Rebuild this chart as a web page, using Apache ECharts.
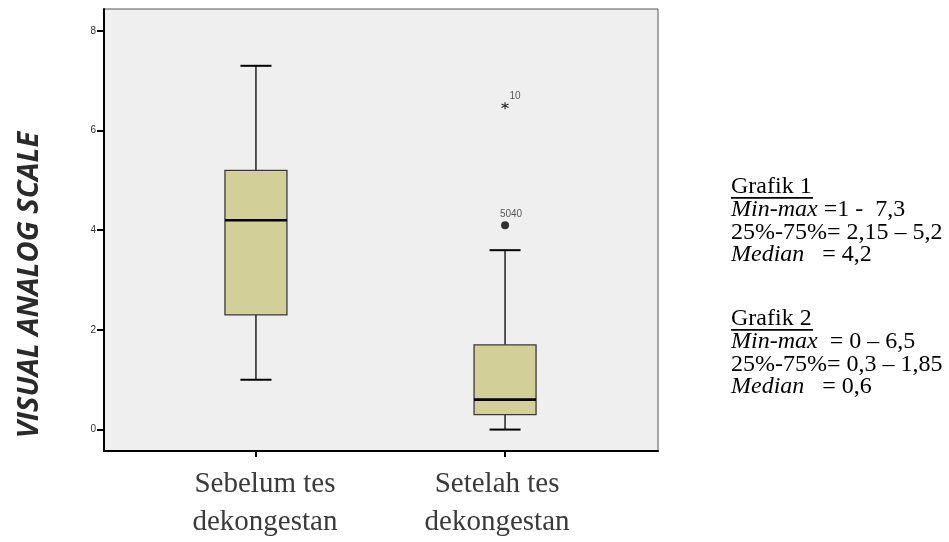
<!DOCTYPE html>
<html><head><meta charset="utf-8">
<script src="https://cdn.jsdelivr.net/npm/echarts@6/dist/echarts.min.js"></script>
<style>html,body{margin:0;padding:0;background:#fff;}#c{width:949px;height:542px;}</style>
</head><body><div id="c"></div>
<script>
// ---- data ----
const categories = ['Sebelum tes\ndekongestan', 'Setelah tes\ndekongestan'];
const boxMin    = [1.0, 0.0];
const boxQ1     = [2.3, 0.3];
const boxMedian = [4.2, 0.6];
const boxQ3     = [5.2, 1.7];
const boxMax    = [7.3, 3.6];
const outlierCat   = [1, 1];
const outlierValue = [4.1, 6.5];
const outlierLabel = ['5040', '10'];
const outlierType  = ['circle', 'star'];
const yTicks = [0, 2, 4, 6, 8];
const yAxisTitle = 'VISUAL ANALOG SCALE';
const notes1 = ['Grafik 1', 'Min-max', ' =1 -  7,3', '25%-75%= 2,15 – 5,2', 'Median', '   = 4,2'];
const notes2 = ['Grafik 2', 'Min-max', '  = 0 – 6,5', '25%-75%= 0,3 – 1,85', 'Median', '   = 0,6'];

const boxData = categories.map((c, i) => [i, boxMin[i], boxQ1[i], boxMedian[i], boxQ3[i], boxMax[i]]);
const starPath = 'path://M0,-5L0,5M-4.33,-2.5L4.33,2.5M-4.33,2.5L4.33,-2.5';
const outData = outlierValue.map((v, i) => ({
  value: [outlierCat[i], v],
  symbol: outlierType[i] === 'star' ? starPath : 'circle',
  symbolSize: outlierType[i] === 'star' ? 7 : 8,
  itemStyle: outlierType[i] === 'star'
    ? {color: 'rgba(0,0,0,0)', borderColor: '#000', borderWidth: 1.2}
    : {color: '#000'},
  label: {formatter: outlierLabel[i], offset: outlierType[i] === 'star' ? [10, 5] : [6, 3]}
}));

const BOXW = 62;
function renderBox(params, api) {
  const x = api.value(0);
  const pMin = api.coord([x, api.value(1)]);
  const pQ1 = api.coord([x, api.value(2)]);
  const pMed = api.coord([x, api.value(3)]);
  const pQ3 = api.coord([x, api.value(4)]);
  const pMax = api.coord([x, api.value(5)]);
  const cx = pMin[0], hw = BOXW / 2, cw = BOXW / 4;
  return {
    type: 'group',
    children: [
      {type: 'line', shape: {x1: cx, y1: pQ3[1], x2: cx, y2: pMax[1]}, style: {stroke: '#000', lineWidth: 1.3}},
      {type: 'line', shape: {x1: cx, y1: pMin[1], x2: cx, y2: pQ1[1]}, style: {stroke: '#000', lineWidth: 1.3}},
      {type: 'line', shape: {x1: cx - cw, y1: pMax[1], x2: cx + cw, y2: pMax[1]}, style: {stroke: '#000', lineWidth: 2}},
      {type: 'line', shape: {x1: cx - cw, y1: pMin[1], x2: cx + cw, y2: pMin[1]}, style: {stroke: '#000', lineWidth: 2}},
      {type: 'rect', shape: {x: cx - hw, y: pQ3[1], width: BOXW, height: pQ1[1] - pQ3[1]},
        style: {fill: '#d3cf99', stroke: '#3a3a3a', lineWidth: 1.3}},
      {type: 'line', shape: {x1: cx - hw, y1: pMed[1], x2: cx + hw, y2: pMed[1]}, style: {stroke: '#000', lineWidth: 2.6}}
    ]
  };
}

const serif = '"Liberation Serif", "Times New Roman", serif';
function noteBlock(lines, top) {
  const fs = 24, lh = 22.7;
  const items = [];
  items.push({type: 'text', left: 731, top: top, style: {text: lines[0], font: fs + 'px ' + serif, fill: '#000'}});
  items.push({type: 'rect', left: 731, top: top + 22, shape: {width: 82, height: 1.8}, style: {fill: '#000'}});
  items.push({type: 'text', left: 731, top: top + lh, style: {
    text: '{i|' + lines[1] + '}{n|' + lines[2] + '}',
    rich: {i: {font: 'italic ' + fs + 'px ' + serif, fill: '#000'}, n: {font: fs + 'px ' + serif, fill: '#000'}}}});
  items.push({type: 'text', left: 731, top: top + 2 * lh, style: {text: lines[3], font: fs + 'px ' + serif, fill: '#000'}});
  items.push({type: 'text', left: 731, top: top + 3 * lh, style: {
    text: '{i|' + lines[4] + '}{n|' + lines[5] + '}',
    rich: {i: {font: 'italic ' + fs + 'px ' + serif, fill: '#000'}, n: {font: fs + 'px ' + serif, fill: '#000'}}}});
  return items;
}

const chart = echarts.init(document.getElementById('c'), null, {renderer: 'canvas'});
chart.setOption({
  animation: false,
  backgroundColor: '#fff',
  grid: {left: 104, right: 291, top: 9, bottom: 91, show: true, backgroundColor: '#efefef', borderColor: '#555', borderWidth: 1},
  xAxis: {
    type: 'value', min: -0.61, max: 1.614,
    splitLine: {show: false},
    axisLine: {show: true, onZero: false, lineStyle: {color: '#000', width: 2}},
    axisTick: {show: true, customValues: [0, 1], length: 6, lineStyle: {color: '#000', width: 2}},
    axisLabel: {
      customValues: [0, 1], margin: 14, color: '#3a3a3a', rotate: 0,
      formatter: function (v) {
        const i = Math.round(v);
        const parts = categories[i].split('\n');
        return parts.map(p => '{c' + i + '|' + p + '}').join('\n');
      },
      rich: {
        c0: {fontFamily: serif, fontSize: 29, lineHeight: 38, color: '#3a3a3a', padding: [0, 0, 0, 18]},
        c1: {fontFamily: serif, fontSize: 29, lineHeight: 38, color: '#3a3a3a', padding: [0, 16, 0, 0]}
      }
    }
  },
  yAxis: {
    type: 'value', min: -0.43, max: 8.44,
    splitLine: {show: false},
    axisLine: {show: true, onZero: false, lineStyle: {color: '#000', width: 2}},
    axisTick: {show: true, customValues: yTicks, length: 7, lineStyle: {color: '#000', width: 2}},
    axisLabel: {customValues: yTicks, margin: 8, rotate: 0, fontFamily: 'Liberation Sans, Arial, sans-serif', fontSize: 10, color: '#333'},
    name: yAxisTitle, nameLocation: 'middle', nameRotate: 90, nameGap: 60,
    nameTextStyle: {fontFamily: '"Open Sans", sans-serif', fontWeight: 'bold', fontStyle: 'italic', fontSize: 29, color: '#2a2a2a', padding: [0, 110, 0, 0]}
  },
  series: [
    {type: 'custom', renderItem: renderBox, data: boxData, encode: {x: 0, y: [1, 2, 3, 4, 5]}, clip: false},
    {type: 'scatter', data: outData,
      label: {show: true, position: 'top', fontFamily: 'Liberation Sans, Arial, sans-serif', fontSize: 10, color: '#333', distance: 5}}
  ],
  graphic: noteBlock(notes1, 175).concat(noteBlock(notes2, 307))
});
</script></body></html>
